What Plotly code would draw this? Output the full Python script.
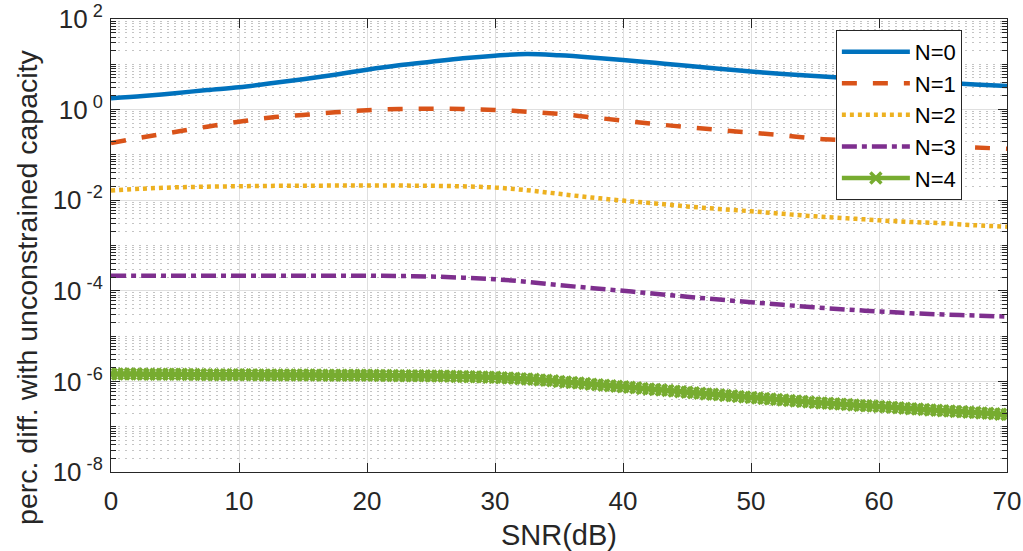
import numpy as np
import plotly.graph_objects as go

# SNR grids (dB)
snr_coarse = np.arange(0, 72.5, 2.5)      # 29 samples
snr_fine = np.arange(0, 70.5, 0.5)        # 141 samples (N=4 has a marker at every sample)

# Percentage difference with the unconstrained capacity
diff_n0 = [1.78, 2.0, 2.3, 2.7, 3.1, 3.8, 4.7, 5.9, 7.6, 9.5, 11.4, 13.6, 15.5, 16.8, 15.8,
           14.2, 12.4, 10.8, 9.3, 8.0, 6.9, 6.1, 5.5, 5.0, 4.5, 4.2, 3.9, 3.6, 3.3]
diff_n1 = [0.183, 0.245, 0.32, 0.42, 0.54, 0.67, 0.76, 0.87, 0.97, 1.03, 1.05, 1.03, 0.98, 0.9,
           0.8, 0.68, 0.57, 0.48, 0.41, 0.355, 0.31, 0.27, 0.23, 0.21, 0.19, 0.17, 0.155, 0.145, 0.137]
diff_n2 = [0.0163, 0.0180, 0.0192, 0.0199, 0.0203, 0.0207, 0.0209, 0.0210, 0.0210, 0.0210,
           0.0208, 0.0202, 0.0190, 0.0166, 0.0138, 0.0115, 0.0098, 0.0085, 0.0073, 0.0064,
           0.0057, 0.0050, 0.0044, 0.0040, 0.0036, 0.0033, 0.0031, 0.0028, 0.0026]
diff_n3 = [2.15e-4, 2.15e-4, 2.15e-4, 2.15e-4, 2.15e-4, 2.15e-4, 2.15e-4, 2.15e-4, 2.15e-4,
           2.12e-4, 2.06e-4, 1.95e-4, 1.8e-4, 1.58e-4, 1.34e-4, 1.15e-4, 1.0e-4, 8.6e-5,
           7.4e-5, 6.4e-5, 5.6e-5, 4.9e-5, 4.3e-5, 3.85e-5, 3.5e-5, 3.2e-5, 3.0e-5, 2.85e-5, 2.7e-5]
diff_n4_micro = [
    1.46, 1.46, 1.45, 1.45, 1.45, 1.44, 1.44, 1.44, 1.43, 1.43, 1.43, 1.43, 1.42, 1.42, 1.42,
    1.41, 1.41, 1.41, 1.41, 1.40, 1.40,
    1.40, 1.40, 1.39, 1.39, 1.39, 1.39, 1.39, 1.38, 1.38, 1.38, 1.38, 1.38, 1.37, 1.37, 1.37,
    1.37, 1.37, 1.36, 1.36, 1.36,
    1.36, 1.35, 1.35, 1.35, 1.34, 1.34, 1.34, 1.33, 1.33, 1.32,
    1.32, 1.31, 1.30, 1.29, 1.28, 1.27, 1.26, 1.25, 1.24, 1.23,
    1.21, 1.19, 1.17, 1.15, 1.13, 1.11, 1.08, 1.06, 1.03, 1.00,
    0.97, 0.945, 0.92, 0.895, 0.87, 0.845, 0.82, 0.80, 0.78, 0.76,
    0.74, 0.72, 0.70, 0.68, 0.66, 0.645, 0.63, 0.61, 0.59, 0.575,
    0.56, 0.545, 0.53, 0.52, 0.505, 0.49, 0.48, 0.465, 0.455, 0.44,
    0.43, 0.42, 0.41, 0.40, 0.39, 0.38, 0.37, 0.36, 0.35, 0.34,
    0.335, 0.33, 0.32, 0.315, 0.31, 0.30, 0.295, 0.29, 0.285, 0.28,
    0.274, 0.268, 0.262, 0.256, 0.25, 0.245, 0.24, 0.235, 0.23, 0.225,
    0.221, 0.217, 0.213, 0.209, 0.205, 0.201, 0.197, 0.193, 0.189, 0.185,
]
diff_n4 = [v * 1e-6 for v in diff_n4_micro]

series_names = ["N=0", "N=1", "N=2", "N=3", "N=4"]
colors = ["#0072BD", "#D95319", "#EDB120", "#7E2F8E", "#77AC30"]

x_title = "SNR(dB)"
y_title = "perc. diff. with unconstrained capacity"

# y ticks: labelled every two decades
ytick_exp = [2, 0, -2, -4, -6, -8]
ytick_text = ["10<sup> %d</sup>" % e for e in ytick_exp]
ytick_vals = [10.0 ** e for e in ytick_exp]
yminor_vals = [m * 10.0 ** k for k in range(-8, 2) for m in range(1, 10)]
yminor_vals = [v for v in yminor_vals if v not in ytick_vals]

FONT = "Liberation Sans, Arial, Helvetica, sans-serif"
INK = "#262626"
LW = 4.5

fig = go.Figure()
fig.add_trace(go.Scatter(x=snr_coarse, y=diff_n0, name=series_names[0], mode="lines",
                         line=dict(color=colors[0], width=LW, shape="spline")))
fig.add_trace(go.Scatter(x=snr_coarse, y=diff_n1, name=series_names[1], mode="lines",
                         line=dict(color=colors[1], width=LW, dash="15px,16px", shape="spline")))
fig.add_trace(go.Scatter(x=snr_coarse, y=diff_n2, name=series_names[2], mode="lines",
                         line=dict(color=colors[2], width=LW, dash="4px,4px", shape="spline")))
fig.add_trace(go.Scatter(x=snr_coarse, y=diff_n3, name=series_names[3], mode="lines",
                         line=dict(color=colors[3], width=LW, dash="15px,5px,5px,5px", shape="spline")))
fig.add_trace(go.Scatter(x=snr_fine, y=diff_n4, name=series_names[4], mode="lines+markers",
                         line=dict(color=colors[4], width=LW),
                         marker=dict(symbol="x-thin", size=11, color=colors[4],
                                     line=dict(width=3.5, color=colors[4]))))

fig.update_layout(
    width=1023, height=551,
    margin=dict(l=111, r=16, t=19, b=79, autoexpand=False),
    paper_bgcolor="white", plot_bgcolor="white",
    font=dict(family=FONT, color=INK, size=26),
    legend=dict(
        x=0.809, y=0.976, xanchor="left", yanchor="top",
        bgcolor="white", bordercolor=INK, borderwidth=1,
        font=dict(size=22, color="black", family=FONT),
        itemwidth=68, tracegroupgap=0,
    ),
    showlegend=True,
)

# y-axis label placed as a rotated annotation, left of the tick labels
fig.add_annotation(
    text=y_title, textangle=-90, showarrow=False,
    xref="paper", yref="paper", x=-0.094, y=0.408,
    xanchor="center", yanchor="middle",
    font=dict(size=28.5, color=INK, family=FONT),
)

fig.update_xaxes(
    range=[0, 70], tick0=0, dtick=10, automargin=False,
    ticks="inside", ticklen=9, tickwidth=1, tickcolor=INK,
    showline=True, linecolor=INK, linewidth=1, mirror="ticks",
    showgrid=True, gridcolor="#dfdfdf", gridwidth=1,
    zeroline=False,
    tickfont=dict(size=26, color=INK), ticklabelstandoff=6,
    title=dict(text=x_title, font=dict(size=29, color=INK), standoff=10),
)
fig.update_yaxes(
    type="log", range=[-8, 2], automargin=False,
    tickmode="array", tickvals=ytick_vals, ticktext=ytick_text,
    ticks="inside", ticklen=9, tickwidth=1, tickcolor=INK,
    showline=True, linecolor=INK, linewidth=1, mirror="ticks",
    showgrid=True, gridcolor="#dfdfdf", gridwidth=1,
    zeroline=False,
    tickfont=dict(size=26, color=INK), ticklabelstandoff=2,
    minor=dict(tickmode="array", tickvals=yminor_vals, ticks="inside", ticklen=5,
               tickcolor=INK, showgrid=True, gridcolor="#c4c4c4", gridwidth=1,
               griddash="2px,5px"),
)

fig.write_html("out.html")
